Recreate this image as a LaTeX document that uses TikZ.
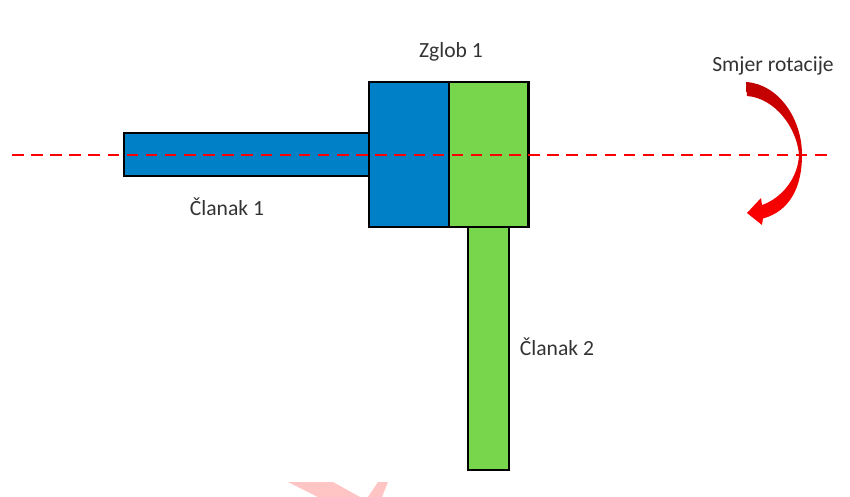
\documentclass[tikz,border=0pt]{standalone}
\usepackage{fontspec}
\setmainfont{Carlito}
\definecolor{linkblue}{HTML}{0080C6}
\definecolor{linkgreen}{HTML}{78D64C}
\definecolor{wm}{HTML}{FFC4C4}
\definecolor{lbl}{HTML}{333333}
\tikzset{
  part/.style={draw=black,line width=2.4pt,inner sep=0pt,outer sep=0pt,anchor=north west},
  lab/.style={text=lbl,font=\fontsize{21.6}{24}\selectfont,inner sep=0pt},
  axisline/.style={draw=red,line width=2.2pt,dash pattern=on 11.5pt off 7.62pt},
}
\begin{document}
\begin{tikzpicture}[x=1pt,y=-1pt]
\useasboundingbox (0,0) rectangle (850,497);
\fill[wm] (288,482) -- (333,482) -- (360,497) -- (318,497) -- cycle;
\fill[wm] (378,482) -- (388,482) -- (382,497) -- (368,497) -- cycle;
\node[part,fill=linkblue,minimum width=245pt,minimum height=43pt] (link1) at (124,133) {};
\node[part,fill=linkgreen,minimum width=41pt,minimum height=243pt] (link2) at (468,227) {};
\node[part,fill=linkblue,minimum width=80pt,minimum height=145pt] (jointa) at (369,82) {};
\node[part,fill=linkgreen,minimum width=79.5pt,minimum height=145pt] (jointb) at (449,82) {};
\coordinate (axisL) at (12,155);
\coordinate (axisR) at (827,155);
\draw[axisline] (axisL) -- (axisR);
\path[top color=red!75!black,bottom color=red,shading angle=0]
  (746,82) .. controls (778,84) and (802,118) .. (802,155)
  .. controls (802,187) and (790,211) .. (763,218.5)
  -- (762,225) -- (747,213) -- (761,198) -- (762,205)
  .. controls (782,198) and (798,178) .. (799,155)
  .. controls (797,128) and (775,98) .. (747,96) -- cycle;
\node[lab] (zglob) at (451,52) {Zglob 1};
\node[lab] (clanak1) at (227,206.5) {Članak 1};
\node[lab] (clanak2) at (557,347) {Članak 2};
\node[lab] (smjer) at (773,66) {Smjer rotacije};
\end{tikzpicture}
\end{document}
